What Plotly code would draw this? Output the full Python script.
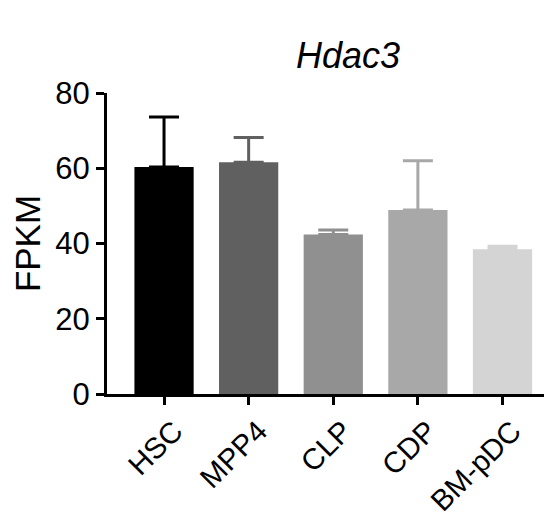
import plotly.graph_objects as go

categories = ["HSC", "MPP4", "CLP", "CDP", "BM-pDC"]
means = [60.3, 61.6, 42.4, 48.9, 38.5]
err_upper = [13.3, 6.6, 1.2, 13.1, 0.8]
colors = ["#000000", "#606060", "#909090", "#a8a8a8", "#d4d4d4"]
y_ticks = [0, 20, 40, 60, 80]

FONT = "Liberation Sans, Arial, sans-serif"

fig = go.Figure()
for cat, m, e, c in zip(categories, means, err_upper, colors):
    fig.add_trace(go.Bar(
        x=[cat], y=[m], width=0.70,
        marker=dict(color=c, line=dict(width=0)),
        error_y=dict(type="data", symmetric=False, array=[e], arrayminus=[0],
                     color=c, thickness=3, width=15),
        showlegend=False,
    ))

# page body has an 8px default margin; size the figure to fill the rest of the window
fig.update_layout(
    width=544, height=512,
    margin=dict(l=99, r=0, t=85, b=126),
    plot_bgcolor="white", paper_bgcolor="white",
    barmode="overlay",
    font=dict(family=FONT, color="black"),
    annotations=[dict(text="<i>Hdac3</i>", x=0.5416, y=1.199, xref="paper", yref="paper",
                      showarrow=False, font=dict(size=36, family=FONT, color="black"))],
)
fig.update_xaxes(
    type="category", range=[-0.674, 4.585], automargin=False,
    showline=True, linecolor="black", linewidth=3,
    ticks="outside", ticklen=8, tickwidth=3, tickcolor="black",
    tickangle=-45, tickfont=dict(size=29.5, family=FONT),
    ticklabelshift=10, ticklabelstandoff=-3,
    showgrid=False, zeroline=False,
)
fig.update_yaxes(
    range=[0, 80], tickvals=y_ticks, automargin=False,
    showline=True, linecolor="black", linewidth=3,
    ticks="outside", ticklen=8, tickwidth=3, tickcolor="black",
    tickfont=dict(size=31, family=FONT),
    title=dict(text="FPKM", font=dict(size=35, family=FONT), standoff=6),
    showgrid=False, zeroline=False,
)

fig.write_html("out.html")
